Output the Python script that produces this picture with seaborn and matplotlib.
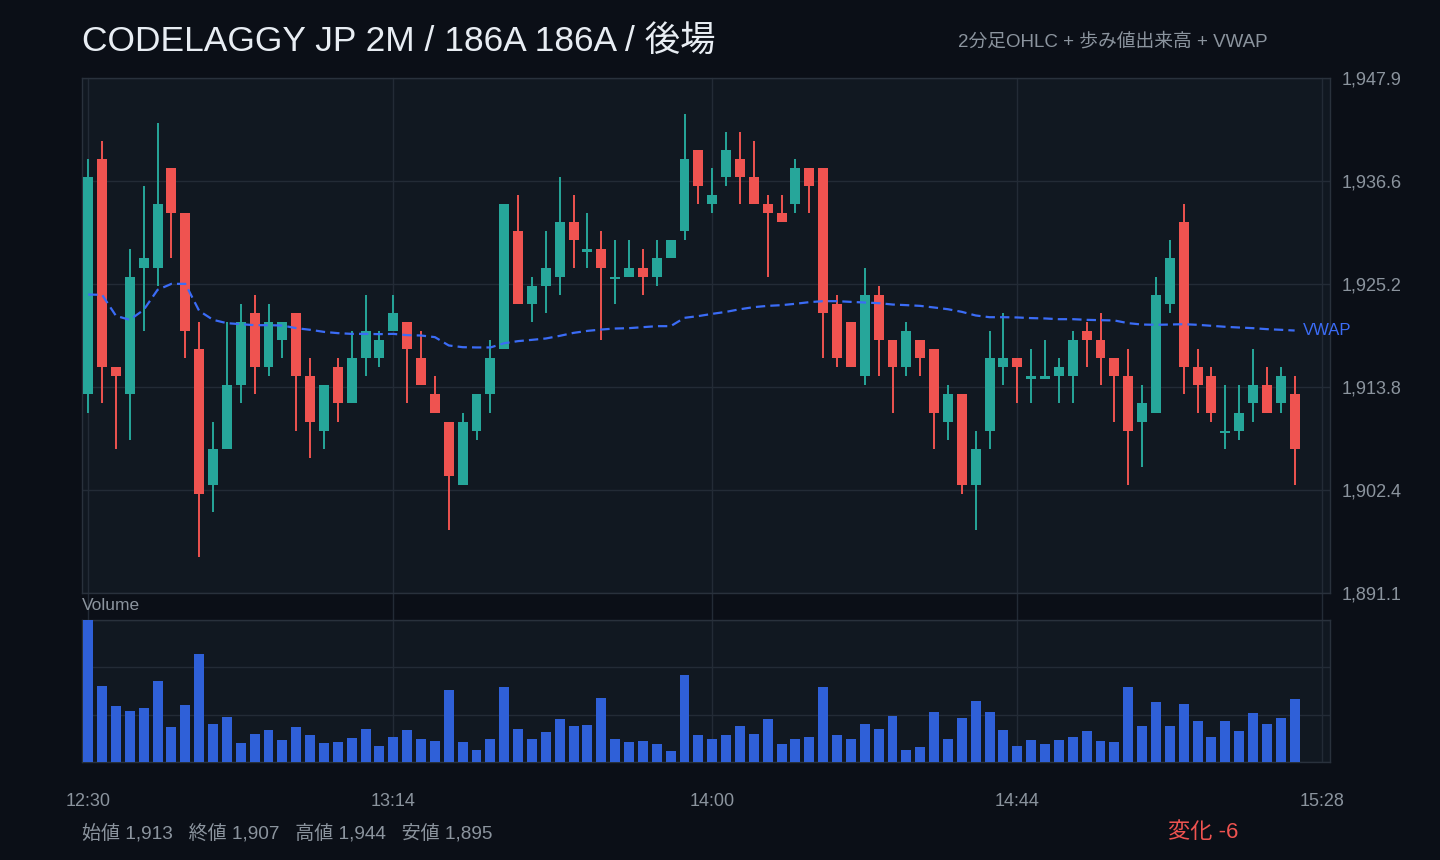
import matplotlib
matplotlib.use("Agg")
import matplotlib.pyplot as plt
import numpy as np
import pandas as pd
import seaborn as sns

# 2-minute bars, index 0 = 12:30
opens = [1913, 1939, 1916, 1913, 1927, 1927, 1938, 1933, 1918, 1903,
         1907, 1914, 1922, 1916, 1919, 1922, 1915, 1909, 1916, 1912,
         1917, 1917, 1920, 1921, 1917, 1913, 1910, 1903, 1909, 1913,
         1918, 1931, 1923, 1925, 1926, 1932, 1929, 1929, 1926, 1926,
         1927, 1926, 1928, 1931, 1940, 1934, 1937, 1939, 1937, 1934,
         1933, 1934, 1938, 1938, 1923, 1921, 1915, 1924, 1919, 1916,
         1919, 1918, 1910, 1913, 1903, 1909, 1916, 1917, 1915, 1915,
         1915, 1915, 1920, 1919, 1917, 1915, 1910, 1911, 1923, 1932,
         1916, 1915, 1909, 1909, 1912, 1914, 1912, 1913]
highs = [1939, 1941, 1916, 1929, 1936, 1943, 1938, 1933, 1921, 1910,
         1921, 1923, 1924, 1923, 1921, 1922, 1917, 1914, 1917, 1920,
         1924, 1920, 1924, 1921, 1920, 1915, 1910, 1911, 1913, 1919,
         1934, 1935, 1926, 1931, 1937, 1935, 1933, 1931, 1930, 1930,
         1929, 1930, 1930, 1944, 1940, 1938, 1942, 1942, 1941, 1935,
         1935, 1939, 1938, 1938, 1924, 1921, 1927, 1925, 1919, 1921,
         1919, 1918, 1914, 1913, 1909, 1920, 1922, 1917, 1918, 1919,
         1917, 1920, 1921, 1922, 1917, 1918, 1914, 1926, 1930, 1934,
         1918, 1916, 1914, 1914, 1918, 1916, 1916, 1915]
lows = [1911, 1912, 1907, 1908, 1920, 1925, 1928, 1917, 1895, 1900,
        1907, 1912, 1913, 1915, 1917, 1909, 1906, 1907, 1910, 1912,
        1915, 1916, 1920, 1912, 1914, 1911, 1898, 1903, 1908, 1911,
        1918, 1923, 1921, 1922, 1924, 1927, 1927, 1919, 1923, 1926,
        1924, 1925, 1928, 1930, 1934, 1933, 1936, 1934, 1934, 1926,
        1932, 1933, 1933, 1917, 1916, 1916, 1914, 1915, 1911, 1915,
        1915, 1907, 1908, 1902, 1898, 1907, 1914, 1912, 1912, 1915,
        1912, 1912, 1916, 1914, 1910, 1903, 1905, 1911, 1922, 1913,
        1911, 1910, 1907, 1908, 1910, 1911, 1911, 1903]
closes = [1937, 1916, 1915, 1926, 1928, 1934, 1933, 1920, 1902, 1907,
          1914, 1921, 1916, 1921, 1921, 1915, 1910, 1914, 1912, 1917,
          1920, 1919, 1922, 1918, 1914, 1911, 1904, 1910, 1913, 1917,
          1934, 1923, 1925, 1927, 1932, 1930, 1929, 1927, 1926, 1927,
          1926, 1928, 1930, 1939, 1936, 1935, 1940, 1937, 1934, 1933,
          1932, 1938, 1936, 1922, 1917, 1916, 1924, 1919, 1916, 1920,
          1917, 1911, 1913, 1903, 1907, 1917, 1917, 1916, 1915, 1915,
          1916, 1919, 1919, 1917, 1915, 1909, 1912, 1924, 1928, 1916,
          1914, 1911, 1909, 1911, 1914, 1911, 1915, 1907]
volumes = [3000, 1610, 1190, 1080, 1150, 1710, 750, 1210, 2280, 810,
           960, 410, 600, 680, 470, 750, 580, 410, 430, 510,
           700, 340, 530, 680, 490, 450, 1520, 430, 260, 490,
           1590, 700, 490, 640, 910, 770, 790, 1360, 490, 430,
           450, 390, 240, 1840, 580, 490, 560, 770, 600, 910,
           390, 490, 530, 1590, 560, 490, 810, 700, 980, 260,
           320, 1060, 490, 930, 1290, 1060, 680, 340, 470, 390,
           470, 530, 660, 450, 430, 1590, 770, 1270, 770, 1230,
           870, 530, 870, 660, 1040, 810, 930, 1340]
vwap = [1924.02, 1923.99, 1921.67, 1921.23, 1922.33, 1924.54, 1925.20, 1925.20, 1922.22, 1921.23,
        1920.86, 1920.75, 1920.64, 1920.64, 1920.60, 1920.31, 1920.13, 1919.90, 1919.76, 1919.68,
        1919.68, 1919.65, 1919.68, 1919.54, 1919.50, 1919.32, 1918.40, 1918.21, 1918.18, 1918.18,
        1918.65, 1918.88, 1919.02, 1919.17, 1919.46, 1919.79, 1920.01, 1920.16, 1920.27, 1920.31,
        1920.42, 1920.53, 1920.53, 1921.45, 1921.64, 1921.89, 1922.11, 1922.40, 1922.63, 1922.77,
        1922.85, 1923.00, 1923.18, 1923.29, 1923.29, 1923.21, 1923.14, 1923.07, 1922.92, 1922.85,
        1922.77, 1922.59, 1922.40, 1922.11, 1921.71, 1921.52, 1921.52, 1921.49, 1921.42, 1921.38,
        1921.30, 1921.30, 1921.23, 1921.19, 1921.16, 1920.86, 1920.71, 1920.68, 1920.71, 1920.75,
        1920.68, 1920.57, 1920.46, 1920.38, 1920.31, 1920.20, 1920.13, 1920.05]
tick_pos = [0, 22, 45, 67, 89]
tick_labels = ["12:30", "13:14", "14:00", "14:44", "15:28"]

title = "CODELAGGY JP 2M / 186A 186A / 後場"
subtitle = "2分足OHLC + 歩み値出来高 + VWAP"

BG = "#0b0f17"
PANEL = "#111821"
GRID = "#232b36"
SPINE = "#29313c"
TXT = "#8b949e"
UP = "#26a69a"
DOWN = "#ef5350"
VOL = "#2f60d8"
VW = "#3b6cf6"

W, H = 1440, 860

df = pd.DataFrame({"open": opens, "high": highs, "low": lows, "close": closes,
                   "volume": volumes, "vwap": vwap})
df["i"] = np.arange(len(df))

sns.set_theme(style="dark")
plt.rcParams["font.family"] = ["Liberation Sans", "Noto Sans CJK JP", "DejaVu Sans"]

fig = plt.figure(figsize=(W / 100, H / 100), dpi=100, facecolor=BG)
ax = fig.add_axes([82 / W, 1 - 593 / H, 1248 / W, 515 / H], facecolor=PANEL)
axv = fig.add_axes([82 / W, 1 - 762 / H, 1248 / W, 142 / H], facecolor=PANEL)

# price panel: wicks + bodies
up = df["close"] >= df["open"]
colors = np.where(up, UP, DOWN)
ax.vlines(df["i"], df["low"], df["high"], colors=colors, lw=1.4, zorder=3)
body_h = (df["close"] - df["open"]).abs().clip(lower=0.3)
body_top = df[["open", "close"]].max(axis=1)
ax.bar(df["i"], body_h, bottom=body_top - body_h, width=0.72, color=colors,
       linewidth=0, zorder=4)

sns.lineplot(data=df, x="i", y="vwap", ax=ax, color=VW, lw=1.6,
             linestyle=(0, (4.2, 2.3)), zorder=5)
ax.text(len(df) - 1 + 0.6, df["vwap"].iloc[-1], "VWAP", color=VW, fontsize=12,
        ha="left", va="center", clip_on=False)

lo, hi = df["low"].min(), df["high"].max()
pad = (hi - lo) * 0.08
ymin, ymax = lo - pad, hi + pad
yt = np.linspace(ymin, ymax, 6)
ax.set_ylim(ymin, ymax)
ax.set_xlim(-0.45, 89.55)
ax.set_yticks(yt)
ax.set_yticklabels([f"{v:,.1f}" for v in yt])
ax.yaxis.tick_right()
ax.tick_params(axis="y", length=0, pad=8.5, labelcolor=TXT, labelsize=13)
ax.set_xticks(tick_pos)
ax.tick_params(axis="x", length=0, labelbottom=False)
ax.grid(False)
ax.yaxis.grid(True, color=GRID, lw=1)
for x in tick_pos:
    ax.axvline(x, ymin=-27 / 515, ymax=1, color=GRID, lw=1, clip_on=False, zorder=0.5)
ax.set_xlabel("")
ax.set_ylabel("")

# volume panel
sns.barplot(data=df, x="i", y="volume", ax=axv, native_scale=True, width=0.72,
            color=VOL, saturation=1, errorbar=None, linewidth=0, zorder=3)
axv.set_xlim(-0.45, 89.55)
axv.set_ylim(0, df["volume"].max())
axv.set_yticks(np.linspace(0, df["volume"].max(), 4))
axv.tick_params(axis="y", length=0, labelleft=False, labelright=False)
axv.set_xticks(tick_pos)
axv.set_xticklabels(tick_labels)
axv.tick_params(axis="x", length=0, pad=22, labelcolor=TXT, labelsize=13)
axv.grid(True, color=GRID, lw=1)
axv.set_xlabel("")
axv.set_ylabel("")

for a in (ax, axv):
    for s in a.spines.values():
        s.set_color(SPINE)
        s.set_linewidth(1)
        s.set_visible(True)

# texts
fig.text(82 / W, 1 - 52 / H, title, fontsize=25.5, color="#e8edf3",
         ha="left", va="baseline")
fig.text(1268 / W, 1 - 47 / H, subtitle, fontsize=13.5, color=TXT, ha="right", va="baseline")
fig.text(82 / W, 1 - 606 / H, "Volume", fontsize=12.5, color=TXT, ha="left", va="center")

o0, c1 = df["open"].iloc[0], df["close"].iloc[-1]
summary = f"始値 {o0:,}   終値 {c1:,}   高値 {hi:,}   安値 {lo:,}"
fig.text(82 / W, 1 - 833 / H, summary, fontsize=13.7, color=TXT, ha="left", va="center")
chg = c1 - o0
fig.text(1238 / W, 1 - 833 / H, f"変化 {chg:+d}", fontsize=16,
         color=DOWN if chg < 0 else UP, ha="right", va="center")

fig.savefig("out.png", dpi=100, facecolor=BG)
